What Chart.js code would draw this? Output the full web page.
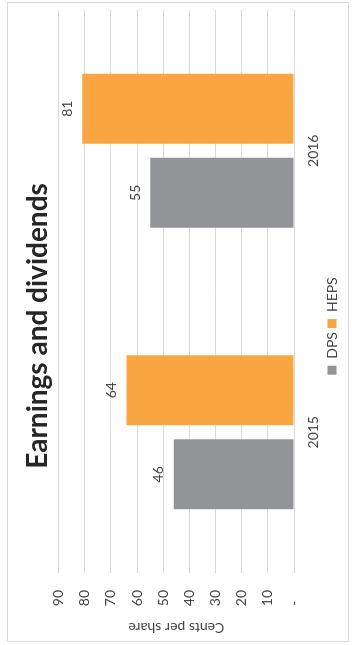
<!DOCTYPE html>
<html><head><meta charset="utf-8">
<script src="https://cdn.jsdelivr.net/npm/chart.js@4/dist/chart.umd.min.js"></script>
<style>
html,body{margin:0;padding:0;background:#fff;width:352px;height:645px;overflow:hidden}
#wrap{position:absolute;left:0;top:0;width:645px;height:352px;transform-origin:0 0;transform:translate(0,645px) rotate(-90deg)}
canvas{display:block}
</style></head><body>
<div id="wrap"><canvas id="c" width="645" height="352"></canvas></div>
<script>
const categories = ['2015', '2016'];
const seriesNames = ['DPS', 'HEPS'];
const dps = [46, 55];
const heps = [64, 81];
const tickLabels = ['-   ', '10', '20', '30', '40', '50', '60', '70', '80', '90'];
const titleText = 'Earnings and dividends';
const axisTitle = 'Cents per share';

const FONT = 'Lato';
const TEXT = '#454545';

const borderPlugin = {
  id: 'outerBorder',
  afterDraw(chart) {
    const ctx = chart.ctx;
    ctx.save();
    ctx.strokeStyle = '#d9d9d9';
    ctx.lineWidth = 1;
    ctx.strokeRect(3.5, 7.5, 639, 341);
    ctx.restore();
  }
};

const labelPlugin = {
  id: 'valueLabels',
  afterDatasetsDraw(chart) {
    const ctx = chart.ctx;
    ctx.save();
    ctx.font = '14px ' + FONT;
    ctx.fillStyle = TEXT;
    ctx.textAlign = 'center';
    ctx.textBaseline = 'middle';
    chart.data.datasets.forEach((ds, i) => {
      const meta = chart.getDatasetMeta(i);
      meta.data.forEach((bar, j) => {
        ctx.fillText(String(ds.data[j]), bar.x, bar.y - 15);
      });
    });
    ctx.restore();
  }
};

new Chart(document.getElementById('c'), {
  type: 'bar',
  data: {
    labels: categories,
    datasets: [
      { label: seriesNames[0], data: dps, backgroundColor: '#939498' },
      { label: seriesNames[1], data: heps, backgroundColor: '#f8a542' }
    ]
  },
  options: {
    responsive: false,
    devicePixelRatio: 1,
    animation: false,
    layout: { padding: { left: 3, right: 10, top: 7, bottom: 3 } },
    datasets: { bar: { categoryPercentage: 0.597, barPercentage: 0.833 } },
    plugins: {
      title: {
        display: true,
        text: titleText,
        color: '#262626',
        font: { family: FONT, size: 28, weight: 'bold' },
        padding: { top: 14, bottom: 4 }
      },
      legend: {
        position: 'bottom',
        labels: {
          color: TEXT,
          font: { family: FONT, size: 14 },
          boxWidth: 9, boxHeight: 9,
          padding: 4
        }
      },
      tooltip: { enabled: false }
    },
    scales: {
      x: {
        grid: { display: false, drawTicks: false },
        border: { display: false },
        ticks: { color: TEXT, font: { family: FONT, size: 14 }, padding: 11 },
        afterFit(s) { s.height = 27; }
      },
      y: {
        min: 0, max: 90,
        grid: { color: '#d9d9d9', drawTicks: false },
        border: { display: false },
        ticks: {
          stepSize: 10,
          color: TEXT,
          font: { family: FONT, size: 14 },
          padding: 17,
          callback: (v) => tickLabels[Math.round(v / 10)]
        },
        title: {
          display: true,
          text: axisTitle,
          color: TEXT,
          font: { family: FONT, size: 14 },
          padding: { top: 6, bottom: 0 }
        },
        afterFit(s) { s.width = 69; }
      }
    }
  },
  plugins: [borderPlugin, labelPlugin]
});
</script>
</body></html>
